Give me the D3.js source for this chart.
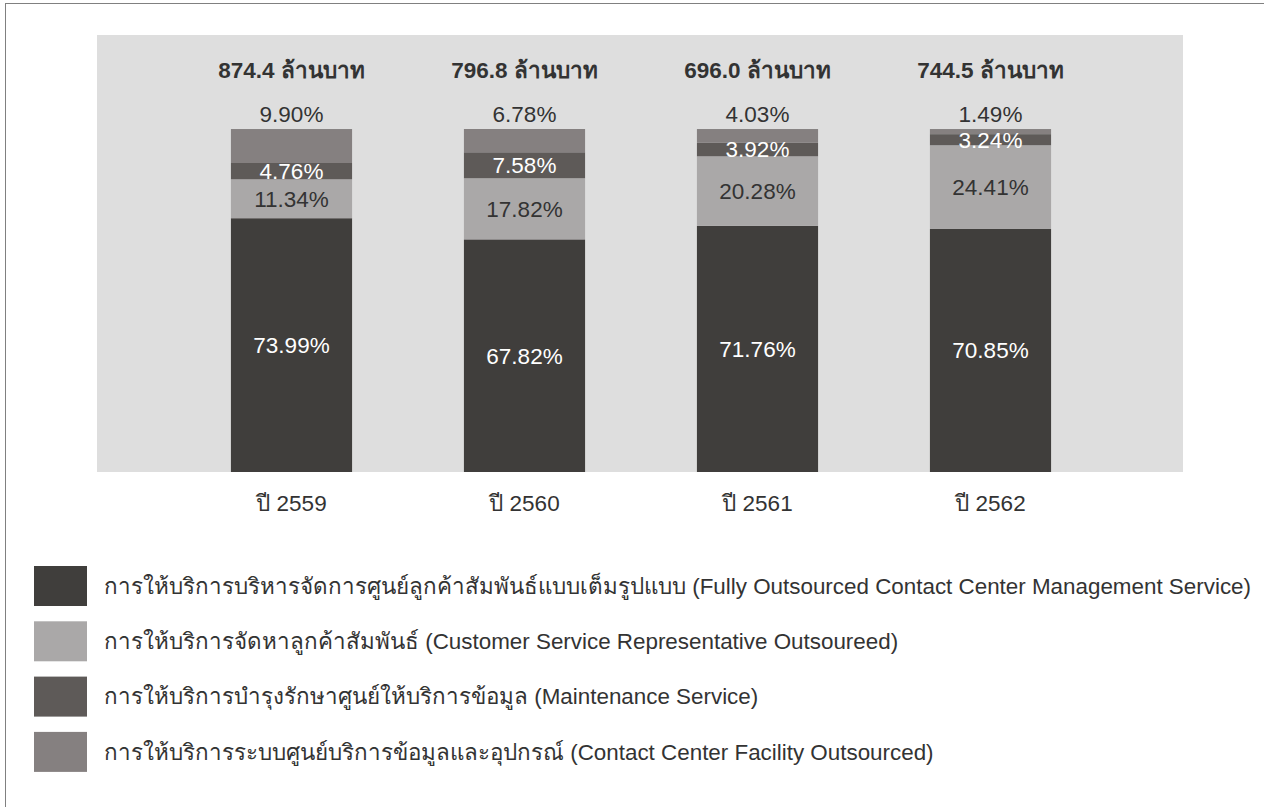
<!DOCTYPE html>
<html>
<head>
<meta charset="utf-8">
<script src="https://cdn.jsdelivr.net/npm/d3@7"></script>
<style>
  html, body { margin: 0; padding: 0; background: #fff; }
  svg { display: block; }
  text { font-family: "Liberation Sans", "Noto Sans", Arial, sans-serif; }
</style>
</head>
<body>
<svg id="chart" width="1264" height="807"></svg>
<script>
// ---- data ----
const years = ["ปี 2559", "ปี 2560", "ปี 2561", "ปี 2562"];
const totals = ["874.4 ล้านบาท", "796.8 ล้านบาท", "696.0 ล้านบาท", "744.5 ล้านบาท"];
const fullyOutsourced = [73.99, 67.82, 71.76, 70.85];
const csrOutsourced = [11.34, 17.82, 20.28, 24.41];
const maintenance = [4.76, 7.58, 3.92, 3.24];
const facility = [9.90, 6.78, 4.03, 1.49];
const seriesNames = [
  "การให้บริการบริหารจัดการศูนย์ลูกค้าสัมพันธ์แบบเต็มรูปแบบ (Fully Outsourced Contact Center Management Service)",
  "การให้บริการจัดหาลูกค้าสัมพันธ์ (Customer Service Representative Outsoureed)",
  "การให้บริการบำรุงรักษาศูนย์ให้บริการข้อมูล (Maintenance Service)",
  "การให้บริการระบบศูนย์บริการข้อมูลและอุปกรณ์ (Contact Center Facility Outsourced)"
];
const seriesColors = ["#403e3c", "#aaa8a8", "#5e5a58", "#858080"];
const labelColors = ["#ffffff", "#333333", "#ffffff", "#333333"];

// ---- build table ----
const keys = ["fully", "csr", "maint", "facility"];
const seriesArrays = [fullyOutsourced, csrOutsourced, maintenance, facility];
const table = years.map((y, i) => {
  const row = { year: y, total: totals[i] };
  keys.forEach((k, j) => row[k] = seriesArrays[j][i]);
  return row;
});

const svg = d3.select("#chart");

// frame
svg.append("rect")
  .attr("x", 5.5).attr("y", 3.5).attr("width", 1400).attr("height", 1000)
  .attr("fill", "none").attr("stroke", "#808080").attr("stroke-width", 1);

// plot background
const plot = { left: 97, right: 1183, top: 35, bottom: 472 };
svg.append("rect")
  .attr("x", plot.left).attr("y", plot.top)
  .attr("width", plot.right - plot.left).attr("height", plot.bottom - plot.top)
  .attr("fill", "#dedede");

const x = d3.scaleBand().domain(years).range([175, 1107])
  .paddingInner(0.48).paddingOuter(0.24);
const y = d3.scaleLinear().domain([0, 100]).range([plot.bottom, 129]);

const stack = d3.stack().keys(keys);
const stacked = stack(table);

const groups = svg.append("g").selectAll("g")
  .data(stacked).join("g")
  .attr("fill", (d, i) => seriesColors[i]);

groups.selectAll("rect")
  .data(d => d).join("rect")
  .attr("x", d => x(d.data.year))
  .attr("width", x.bandwidth())
  .attr("y", d => y(d[1]))
  .attr("height", d => y(d[0]) - y(d[1]));

// segment labels
const fmt = v => v.toFixed(2) + "%";
stacked.forEach((s, i) => {
  svg.append("g").selectAll("text")
    .data(s).join("text")
    .attr("x", d => x(d.data.year) + x.bandwidth() / 2)
    .attr("y", d => i === 3 ? y(d[1]) - 7 : (y(d[0]) + y(d[1])) / 2)
    .attr("dy", i === 3 ? 0 : "0.35em")
    .attr("text-anchor", "middle")
    .attr("font-size", 22.5)
    .attr("fill", i === 3 ? "#333333" : labelColors[i])
    .text(d => fmt(d[1] - d[0]));
});

// totals
svg.append("g").selectAll("text")
  .data(table).join("text")
  .attr("x", d => x(d.year) + x.bandwidth() / 2)
  .attr("y", 78)
  .attr("text-anchor", "middle")
  .attr("font-size", 22.5)
  .attr("font-weight", "bold")
  .attr("fill", "#333333")
  .text(d => d.total);

// x axis labels
const xAxis = d3.axisBottom(x).tickSize(0).tickPadding(0);
const ax = svg.append("g").attr("transform", `translate(0, ${plot.bottom})`).call(xAxis);
ax.select(".domain").remove();
ax.selectAll("text")
  .attr("y", 39).attr("dy", 0)
  .attr("font-size", 22.5)
  .attr("fill", "#333333")
  .style("font-family", "\"Liberation Sans\", \"Noto Sans\", Arial, sans-serif");

// legend
const legend = svg.append("g").selectAll("g")
  .data(seriesNames).join("g")
  .attr("transform", (d, i) => `translate(34, ${566 + i * 55.3})`);
legend.append("rect")
  .attr("width", 53).attr("height", 40)
  .attr("fill", (d, i) => seriesColors[i]);
legend.append("text")
  .attr("x", 70).attr("y", 20).attr("dy", "0.35em")
  .attr("font-size", 22.4)
  .attr("fill", "#333333")
  .text(d => d);
</script>
</body>
</html>
